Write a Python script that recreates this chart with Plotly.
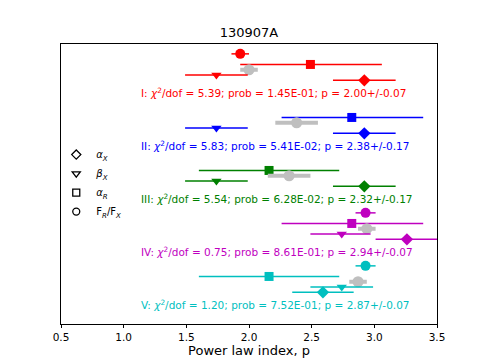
import plotly.graph_objects as go

# fit intervals
groups = ["I", "II", "III", "IV", "V"]
colors = ["#ff0000", "#0000ff", "#008000", "#bf00bf", "#00bfbf"]
chi2 = [5.39, 5.83, 5.54, 0.75, 1.20]
prob = ["1.45E-01", "5.41E-02", "6.28E-02", "8.61E-01", "7.52E-01"]
p_fit = [2.00, 2.38, 2.32, 2.94, 2.87]
p_err = [0.07, 0.17, 0.17, 0.07, 0.07]

# index from each closure relation: value, minus, plus
alpha_x = [2.92, 2.92, 2.92, 3.26, 2.59]
alpha_x_lo = [0.25, 0.25, 0.25, 0.25, 0.245]
alpha_x_hi = [0.25, 0.25, 0.25, 0.25, 0.245]
beta_x = [1.74, 1.74, 1.74, 2.74, 2.74]
beta_x_lo = [0.25, 0.25, 0.25, 0.25, 0.25]
beta_x_hi = [0.25, 0.25, 0.25, 0.23, 0.25]
alpha_r = [2.49, 2.82, 2.16, 2.82, 2.16]
alpha_r_lo = [0.56, 0.56, 0.56, 0.56, 0.56]
alpha_r_hi = [0.57, 0.57, 0.56, 0.57, 0.56]
fr_fx = [1.93, None, None, 2.93, 2.93]
fr_fx_err = [0.07, None, None, 0.08, 0.08]

# vertical offsets within a group (group text sits at 0, groups 1 unit apart)
off = {"circle": 0.72, "square": 0.52, "gray": 0.42, "tri": 0.32, "diamond": 0.22}

fig = go.Figure()

for k, g in enumerate(groups):
    c = colors[k]
    base = -k
    def add(x, lo, hi, sym, size, key, color=c, thick=1.5):
        if x is None:
            return
        fig.add_trace(go.Scatter(
            x=[x], y=[base + off[key]], mode="markers",
            marker=dict(symbol=sym, size=size, color=color, line=dict(width=0)),
            error_x=dict(type="data", symmetric=False, array=[hi], arrayminus=[lo],
                         color=color, thickness=thick, width=0),
            showlegend=False, hoverinfo="skip"))
    add(fr_fx[k], fr_fx_err[k], fr_fx_err[k], "circle", 10, "circle")
    add(alpha_r[k], alpha_r_lo[k], alpha_r_hi[k], "square", 9, "square")
    add(p_fit[k], p_err[k], p_err[k], "circle", 11, "gray", color="#bfbfbf", thick=4)
    add(beta_x[k], beta_x_lo[k], beta_x_hi[k], "triangle-down", 9, "tri")
    add(alpha_x[k], alpha_x_lo[k], alpha_x_hi[k], "diamond", 9.5, "diamond")

    fig.add_annotation(
        x=1.125, y=base, xref="x", yref="y", xanchor="left", yanchor="middle",
        showarrow=False, font=dict(color=c, size=10.5),
        text=f"{g}: <i>χ</i><sup>2</sup>/dof = {chi2[k]:.2f}; prob = {prob[k]}; "
             f"p = {p_fit[k]:.2f}+/-{p_err[k]:.2f}")

legend_items = [("diamond-open", "<i>α</i><sub><i>X</i></sub>"),
                ("triangle-down-open", "<i>β</i><sub><i>X</i></sub>"),
                ("square-open", "<i>α</i><sub><i>R</i></sub>"),
                ("circle-open", "F<sub><i>R</i></sub>/F<sub><i>X</i></sub>")]
for sym, name in legend_items:
    fig.add_trace(go.Scatter(
        x=[None], y=[None], mode="markers", name=name,
        marker=dict(symbol=sym, size=7, color="black", line=dict(width=1.3))))

fig.update_layout(
    width=485, height=364,
    margin=dict(l=61, r=48, t=44, b=40, autoexpand=False),
    paper_bgcolor="white", plot_bgcolor="white",
    font=dict(family="DejaVu Sans", size=10.5, color="black"),
    title=dict(text="130907A", x=0.5, xanchor="center", y=1 - 32 / 364,
               yanchor="middle", font=dict(size=13), xref="paper"),
    legend=dict(xref="container", yref="container", x=0.116, y=0.497,
                xanchor="left", yanchor="middle",
                bgcolor="rgba(0,0,0,0)", font=dict(size=10),
                itemsizing="trace", tracegroupgap=0),
    showlegend=True,
    hovermode=False,
)
fig.update_xaxes(range=[0.5, 3.5], dtick=0.5, tickformat=".1f",
                 showline=True, linecolor="black", linewidth=1, mirror=True,
                 ticks="outside", ticklen=3, tickcolor="black", showgrid=False,
                 zeroline=False, title=dict(text="Power law index, p", standoff=4))
fig.update_yaxes(range=[-4.377, 0.906], showline=True, linecolor="black",
                 linewidth=1, mirror=True, showticklabels=False, ticks="",
                 showgrid=False, zeroline=False)

fig.write_html("out.html", config={"displayModeBar": False},
               post_script="document.body.style.margin='0';")
